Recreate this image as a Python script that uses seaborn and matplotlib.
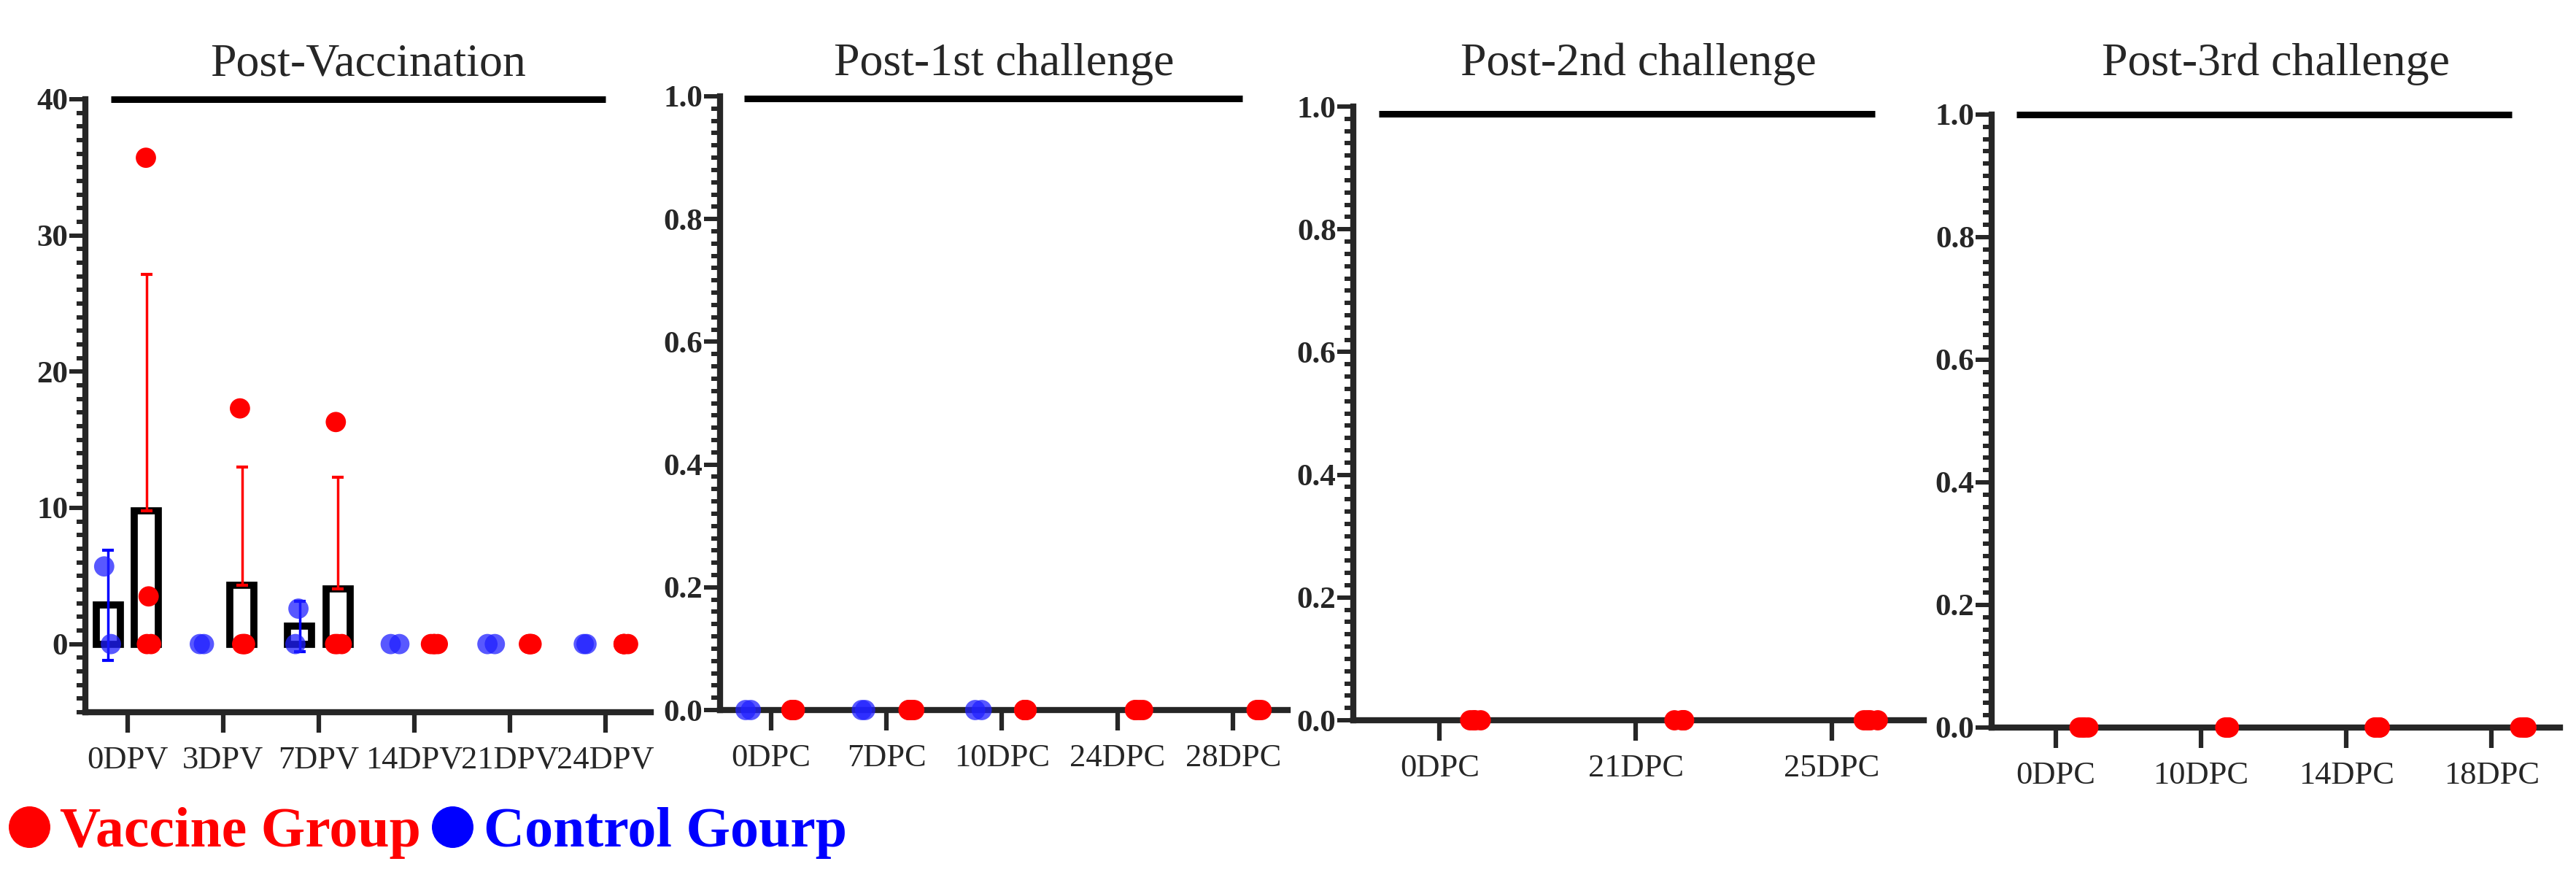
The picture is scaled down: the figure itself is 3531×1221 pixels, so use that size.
import numpy as np
import pandas as pd
import matplotlib.pyplot as plt
import matplotlib.transforms as mtransforms
from matplotlib.lines import Line2D
from matplotlib.ticker import MultipleLocator
import seaborn as sns

# values (n=2 control, n=4 vaccinated)
groups = ["Control", "Vaccine"]

pv_days = ["0DPV", "3DPV", "7DPV", "14DPV", "21DPV", "24DPV"]
pv_control = [[5.7, 0.0], [0.0, 0.0], [2.6, 0.0], [0.0, 0.0], [0.0, 0.0], [0.0, 0.0]]
pv_vaccine = [[35.7, 3.5, 0.0, 0.0], [17.3, 0.0, 0.0, 0.0], [16.3, 0.0, 0.0, 0.0],
              [0.0, 0.0, 0.0, 0.0], [0.0, 0.0, 0.0, 0.0], [0.0, 0.0, 0.0, 0.0]]

c1_days = ["0DPC", "7DPC", "10DPC", "24DPC", "28DPC"]
c1_control = [[0.0, 0.0], [0.0, 0.0], [0.0, 0.0], [], []]
c1_vaccine = [[0.0, 0.0, 0.0, 0.0], [0.0, 0.0, 0.0, 0.0], [0.0, 0.0, 0.0, 0.0],
              [0.0, 0.0, 0.0, 0.0], [0.0, 0.0, 0.0, 0.0]]

c2_days = ["0DPC", "21DPC", "25DPC"]
c2_control = [[], [], []]
c2_vaccine = [[0.0, 0.0, 0.0, 0.0], [0.0, 0.0, 0.0, 0.0], [0.0, 0.0, 0.0, 0.0]]

c3_days = ["0DPC", "10DPC", "14DPC", "18DPC"]
c3_control = [[], [], [], []]
c3_vaccine = [[0.0, 0.0, 0.0, 0.0], [0.0, 0.0, 0.0, 0.0], [0.0, 0.0, 0.0, 0.0],
              [0.0, 0.0, 0.0, 0.0]]

titles = ["Post-Vaccination", "Post-1st challenge", "Post-2nd challenge", "Post-3rd challenge"]
legend_labels = ["Vaccine Group", "Control Gourp"]

# layout (figure fractions) and styling
axes_rects = [[0.0331, 0.2007, 0.2195, 0.6880],
              [0.2795, 0.2031, 0.2203, 0.6888],
              [0.5254, 0.1916, 0.2215, 0.6888],
              [0.7732, 0.1835, 0.2206, 0.6880]]
top_bar_spans = [(-0.17, 5.0, 1.0), (-0.23, 4.08, 0.996), (-0.31, 2.22, 0.988), (-0.27, 3.14, 1.0)]
RED = "#ff0000"
BLUE = "#0000ff"
DOT_BLUE = "#2020ff"
SERIF = ["Liberation Serif", "DejaVu Serif"]
DODGE = 0.2


def to_long(days, control, vaccine):
    rows = []
    for day, c_vals, v_vals in zip(days, control, vaccine):
        rows += [(day, "Control", v) for v in c_vals]
        rows += [(day, "Vaccine", v) for v in v_vals]
    return pd.DataFrame(rows, columns=["day", "group", "value"])


def style_axes(ax, days, ylim, major, minor, fmt):
    ax.set_xlim(-0.44, len(days) - 0.53)
    ax.set_ylim(*ylim)
    yt = np.arange(max(ylim[0], 0), ylim[1] + major / 2, major)
    ax.set_yticks(yt)
    ax.set_yticklabels([fmt.format(v) for v in yt], fontsize=31, fontweight="bold", family=SERIF)
    ax.yaxis.set_minor_locator(MultipleLocator(minor))
    ax.set_xticks(range(len(days)))
    ax.set_xticklabels(days, fontsize=32, family=SERIF)
    ax.tick_params(axis="y", which="major", length=16, width=4.3, pad=1, direction="out")
    ax.tick_params(axis="y", which="minor", length=9, width=4.3, direction="out")
    ax.tick_params(axis="x", which="major", length=20, width=4.5, pad=13, direction="out")
    ax.tick_params(axis="x", which="minor", bottom=False)
    for side in ["top", "right"]:
        ax.spines[side].set_visible(False)
    for side in ["left", "bottom"]:
        ax.spines[side].set_linewidth(6)
    ax.set_xlabel("")
    ax.set_ylabel("")
    ax.grid(False)


def draw_panel(fig, rect, title, days, control, vaccine, ylim, major, minor, fmt, bars, span):
    ax = fig.add_axes(rect)
    df = to_long(days, control, vaccine)

    if bars:
        sns.barplot(data=df, x="day", y="value", hue="group", order=days, hue_order=groups,
                    errorbar=None, fill=False, width=0.8, gap=0.37, linewidth=7,
                    legend=False, ax=ax)
        for p in ax.patches:
            p.set_edgecolor("black")
            p.set_zorder(2)
            if p.get_height() == 0:
                p.set_visible(False)

        stats = df.groupby(["day", "group"])["value"].agg(["mean", "std"]).reset_index()
        for gi, g in enumerate(groups):
            s = stats[stats["group"] == g].set_index("day").reindex(days)
            xs = np.arange(len(days)) + (gi - 0.5) * 2 * DODGE
            keep = (s["mean"] > 0).to_numpy()
            sd = s["std"].to_numpy()[keep]
            lower = sd if g == "Control" else np.zeros_like(sd)
            ax.errorbar(xs[keep], s["mean"].to_numpy()[keep], yerr=[lower, sd], fmt="none",
                        ecolor=BLUE if g == "Control" else RED, elinewidth=2.5,
                        capsize=6, capthick=3, zorder=3)

    sns.stripplot(data=df, x="day", y="value", hue="group", order=days, hue_order=groups,
                  palette={"Control": DOT_BLUE, "Vaccine": RED}, dodge=True, jitter=0.1,
                  size=20, linewidth=0, legend=False, ax=ax, zorder=4)
    for c in ax.collections:
        c.set_clip_on(False)
        fc = c.get_facecolor()
        if len(fc) and fc[0][2] > fc[0][0]:
            c.set_alpha(0.75)

    style_axes(ax, days, ylim, major, minor, fmt)

    # thick bar along the top of each panel
    trans = mtransforms.blended_transform_factory(ax.transData, ax.transAxes)
    ax.plot([span[0], span[1]], [span[2], span[2]], color="black", lw=6.5,
            transform=trans, clip_on=False, solid_capstyle="butt")

    ttrans = mtransforms.blended_transform_factory(ax.transAxes, fig.transFigure)
    ax.text(0.5, 0.9156, title, transform=ttrans, ha="center", va="baseline",
            fontsize=46, family=SERIF)
    return ax


def make_figure():
    sns.set_theme(style="ticks")
    plt.rcParams["font.family"] = SERIF
    np.random.seed(7)

    fig = plt.figure(figsize=(35.31, 12.21), dpi=100)
    fig.patch.set_facecolor("white")

    panels = [
        (pv_days, pv_control, pv_vaccine, (-5, 40), 10, 1, "{:g}", True),
        (c1_days, c1_control, c1_vaccine, (0, 1), 0.2, 0.02, "{:.1f}", False),
        (c2_days, c2_control, c2_vaccine, (0, 1), 0.2, 0.02, "{:.1f}", False),
        (c3_days, c3_control, c3_vaccine, (0, 1), 0.2, 0.02, "{:.1f}", False),
    ]
    for rect, title, span, (days, ctrl, vac, ylim, major, minor, fmt, bars) in zip(
            axes_rects, titles, top_bar_spans, panels):
        draw_panel(fig, rect, title, days, ctrl, vac, ylim, major, minor, fmt, bars, span)

    handles = [Line2D([], [], marker="o", ls="", color=RED, markersize=40),
               Line2D([], [], marker="o", ls="", color=BLUE, markersize=40)]
    fig.legend(handles, legend_labels, loc="center left", bbox_to_anchor=(0.0035, 0.065),
               ncol=2, frameon=False, labelcolor=[RED, BLUE],
               prop={"family": SERIF, "weight": "bold", "size": 56},
               handlelength=0.7, handletextpad=0.2, columnspacing=0.2,
               borderpad=0, borderaxespad=0)

    fig.savefig("out.png", dpi=100, facecolor="white")
    plt.close(fig)


if __name__ == "__main__":
    make_figure()
